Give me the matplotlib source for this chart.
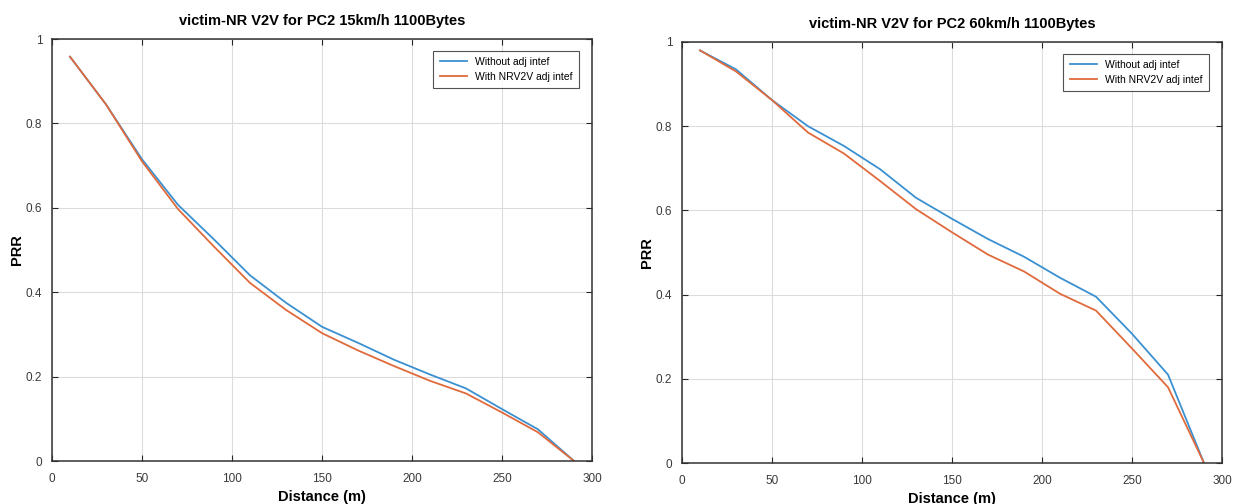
import matplotlib
matplotlib.use("Agg")
import matplotlib.pyplot as plt
from matplotlib.ticker import FuncFormatter

plt.rcParams['font.family'] = ['Liberation Sans', 'DejaVu Sans']

distance = [10, 30, 50, 70, 90, 110, 130, 150, 170, 190, 210, 230, 250, 270, 290]

prr15_without = [0.958, 0.845, 0.715, 0.607, 0.525, 0.440, 0.375, 0.318, 0.280, 0.240, 0.205, 0.172, 0.123, 0.075, 0.0]
prr15_with = [0.958, 0.845, 0.710, 0.597, 0.508, 0.422, 0.358, 0.303, 0.262, 0.225, 0.190, 0.160, 0.115, 0.068, 0.0]

prr60_without = [0.980, 0.935, 0.862, 0.800, 0.753, 0.698, 0.630, 0.580, 0.532, 0.490, 0.440, 0.395, 0.307, 0.210, 0.0]
prr60_with = [0.980, 0.930, 0.862, 0.785, 0.735, 0.670, 0.603, 0.548, 0.495, 0.455, 0.402, 0.362, 0.272, 0.180, 0.0]

titles = ["victim-NR V2V for PC2 15km/h 1100Bytes", "victim-NR V2V for PC2 60km/h 1100Bytes"]
legend_labels = ["Without adj intef", "With NRV2V adj intef"]
xticks = [0, 50, 100, 150, 200, 250, 300]
yticks = [0, 0.2, 0.4, 0.6, 0.8, 1.0]

W, H = 1234, 504
fig = plt.figure(figsize=(W / 100, H / 100), dpi=100)
rects = [
    (52 / W, (H - 461) / H, 540 / W, 422 / H),
    (682 / W, (H - 463) / H, 540 / W, 421 / H),
]
series = [(prr15_without, prr15_with), (prr60_without, prr60_with)]

fmt = FuncFormatter(lambda v, p: ('%g' % round(v, 3)))

for rect, title, (s1, s2) in zip(rects, titles, series):
    ax = fig.add_axes(rect)
    ax.plot(distance, s1, color='#3a90d0', lw=1.3, label=legend_labels[0])
    ax.plot(distance, s2, color='#e06a3c', lw=1.3, label=legend_labels[1])
    ax.set_xlim(0, 300)
    ax.set_ylim(0, 1)
    ax.set_xticks(xticks)
    ax.set_yticks(yticks)
    ax.xaxis.set_major_formatter(fmt)
    ax.yaxis.set_major_formatter(fmt)
    ax.grid(True, color='#dcdcdc', lw=0.8)
    ax.set_axisbelow(True)
    ax.tick_params(direction='in', top=True, right=True, length=4, width=0.8,
                   labelsize=8.5, colors='#262626', labelcolor='#3a3a3a')
    ax.tick_params(axis='x', pad=9)
    ax.tick_params(axis='y', pad=7)
    for sp in ax.spines.values():
        sp.set_color('#333333')
        sp.set_linewidth(1.1)
    ax.set_title(title, fontsize=10.5, fontweight='bold', pad=10)
    ax.set_xlabel("Distance (m)", fontsize=10.5, fontweight='bold', labelpad=3)
    ax.set_ylabel("PRR", fontsize=10.5, fontweight='bold', labelpad=1)
    leg = ax.legend(loc='upper right', fontsize=7.5, frameon=True, fancybox=False,
                    edgecolor='#262626', borderpad=0.6, handlelength=2.6,
                    bbox_to_anchor=(0.985, 0.985))
    leg.get_frame().set_linewidth(0.8)

fig.savefig("out.png", dpi=100)
